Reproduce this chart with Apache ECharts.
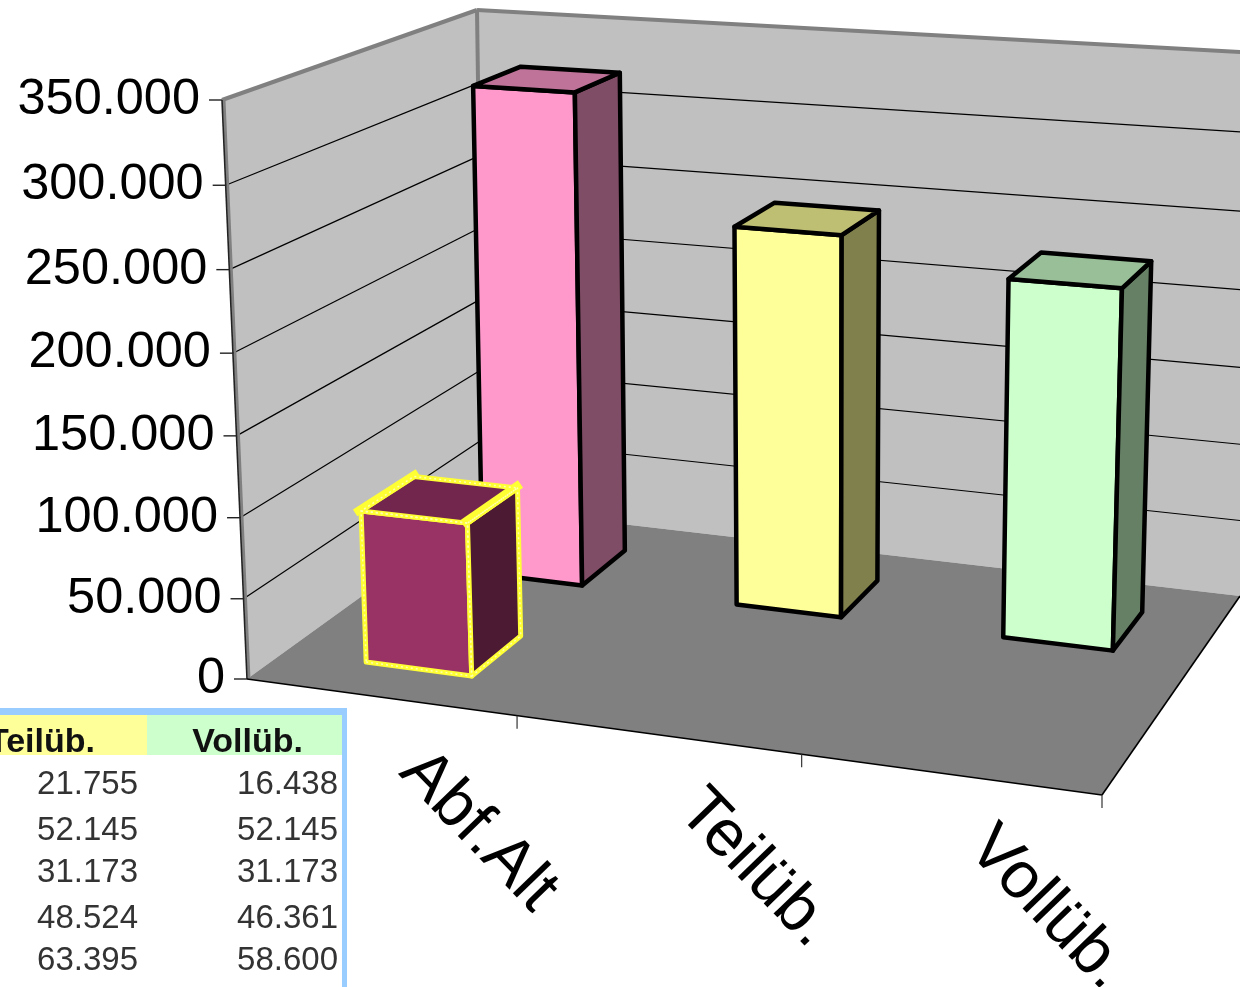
<!DOCTYPE html>
<html><head><meta charset="utf-8"><style>html,body{margin:0;padding:0;background:#fff;overflow:hidden}#c{width:1240px;height:987px}</style>
<script src="https://cdn.jsdelivr.net/npm/echarts@6/dist/echarts.min.js"></script></head>
<body><div id="c"></div><script>
// ---- data ----
var categories = ['Abf.Alt', 'Teilüb.', 'Vollüb.'];
var tickValues = [0, 50000, 100000, 150000, 200000, 250000, 300000, 350000];
var tickLabels = ['0', '50.000', '100.000', '150.000', '200.000', '250.000', '300.000', '350.000'];
var frontRow = [95000, null, null];
var backRow = [323000, 245000, 226000];
var tableHeaders = ['Teilüb.', 'Vollüb.'];
var tableTeil = ['21.755', '52.145', '31.173', '48.524', '63.395'];
var tableVoll = ['16.438', '52.145', '31.173', '46.361', '58.600'];

// ---- styles / camera ----
var frontColors = [['#993366', '#73264D', '#4D1A33']];
var backColors = [['#FF99CC', '#BF7399', '#804D66'], ['#FFFF99', '#BFBF73', '#80804D'], ['#CCFFCC', '#99BF99', '#668066']];
var FLOOR = [[247, 679], [1102, 795], [1240, 596], [484, 508]];
var CEIL = [[222, 100], [1121, 161], [1258, 53], [477, 10]];
var PERSP = 1.036, BAR_RATIO = 0.3975, DEPTH = 0.106, ROW_V = [0.25, 0.748], ROW_U = [0.003, 0.00275];
var FONT = '"Liberation Sans", Arial, sans-serif';

function sq(q) {
  var x0=q[0][0],y0=q[0][1],x1=q[1][0],y1=q[1][1],x2=q[2][0],y2=q[2][1],x3=q[3][0],y3=q[3][1];
  var dx1=x1-x2,dx2=x3-x2,sx=x0-x1+x2-x3,dy1=y1-y2,dy2=y3-y2,sy=y0-y1+y2-y3;
  var d=dx1*dy2-dx2*dy1,g=(sx*dy2-dx2*sy)/d,h=(dx1*sy-sx*dy1)/d;
  return [x1-x0+g*x1,x3-x0+h*x3,x0,y1-y0+g*y1,y3-y0+h*y3,y0,g,h,1];
}
function ap(m,u,v){var w=m[6]*u+m[7]*v+m[8];return [(m[0]*u+m[1]*v+m[2])/w,(m[3]*u+m[4]*v+m[5])/w];}
var mF = sq(FLOOR), mC = sq(CEIL);
function P(u,v,t){ // u along categories, v depth, t share of the value axis
  var b=ap(mF,u,v),c=ap(mC,u,v),f=t/(t+(1-t)*PERSP);
  return [b[0]+(c[0]-b[0])*f,b[1]+(c[1]-b[1])*f];
}
// library scale -> normalised share
function scale(api){
  var s=api.size([1,0])[0],x0=api.coord([0,0]),yT=api.coord([0,350000])[1];
  return {u:function(i){return (api.coord([i,0])[0]-x0[0]+s/2)/(3*s);},
          t:function(val){return (x0[1]-api.coord([0,val])[1])/(x0[1]-yT);}};
}
function poly(pts,fill,stroke,lw,extra){
  var st={fill:fill,stroke:stroke,lineWidth:lw,lineJoin:'round'};
  if(extra){for(var k in extra)st[k]=extra[k];}
  return {type:'polygon',shape:{points:pts},style:st,silent:true};
}
function line(a,b,col,lw,extra){
  var st={stroke:col,lineWidth:lw,fill:null,lineCap:'butt'};
  if(extra){for(var k in extra)st[k]=extra[k];}
  return {type:'polyline',shape:{points:[a,b]},style:st,silent:true};
}

function frame(params,api){
  var ch=[],G='#808080';
  ch.push(poly([P(0,0,0),P(0,1,0),P(0,1,1),P(0,0,1)],'#C0C0C0',null,0));
  ch.push(poly([P(0,1,0),P(1,1,0),P(1,1,1),P(0,1,1)],'#C0C0C0',null,0));
  ch.push(poly([P(0,0,0),P(1,0,0),P(1,1,0),P(0,1,0)],G,null,0));
  var sc=scale(api);
  tickValues.forEach(function(v){
    var t=sc.t(v),a=P(0,0,t),b=P(0,1,t),c=P(1,1,t);
    if(v>0&&v<350000){ch.push(line(a,b,'#000',1.2));ch.push(line(b,c,'#000',1.2));}
    ch.push(line([a[0]-13,a[1]],a,'#222',1.4));
  });
  ch.push(line(P(0,0,1),P(0,1,1),G,4));
  ch.push(line(P(0,1,1),P(1,1,1),G,4));
  ch.push(line(P(0,1,0),P(0,1,1),G,4));
  ch.push(line([P(0,0,0)[0]+2,P(0,0,0)[1]],[P(0,0,1)[0]+2,P(0,0,1)[1]],G,3));
  ch.push(line(P(0,0,0),P(0,0,1),'#222',1.6));
  ch.push(line(P(0,0,0),P(1,0,0),'#000',1.6));
  ch.push(line(P(1,0,0),P(1,1,0),'#000',1.6));
  categories.forEach(function(c,i){
    var p=P((i+1)/categories.length,0,0);
    ch.push(line(p,[p[0],p[1]+13],'#333',1.2));
  });
  return {type:'group',children:ch};
}

function barItem(colors,row,sel){
  return function(params,api){
    var i=api.value(0),val=api.value(1);
    if(isNaN(val))return null;
    var sc=scale(api),uc=sc.u(i)+ROW_U[row],hw=BAR_RATIO/3/2,v=ROW_V[row],t=sc.t(val);
    var u0=uc-hw,u1=uc+hw,v0=v-DEPTH,v1=v+DEPTH;
    var col=colors[i%colors.length];
    var A=P(u0,v0,0),B=P(u1,v0,0),C=P(u1,v1,0),
        D=P(u0,v0,t),E=P(u1,v0,t),F=P(u1,v1,t),H=P(u0,v1,t);
    var faces=[[A,B,E,D],[B,C,F,E],[D,E,F,H]],fills=[col[0],col[2],col[1]];
    var ch=[],stroke=sel?'#FFFF33':'#000',lw=sel?5:4.5;
    faces.forEach(function(f,k){ch.push(poly(f,fills[k],stroke,lw));});
    if(sel){
      ch.push(line([D[0]-6,D[1]+2],[H[0]+4,H[1]-4],'#FFFF33',8));
      ch.push(line([E[0]-5,E[1]+1],[F[0]+3,F[1]-4],'#FFFF33',9));
      faces.forEach(function(f){ch.push(poly(f,'rgba(0,0,0,0)','#FFFFB0',1.5,{lineDash:[2,3]}));});
    }
    return {type:'group',children:ch};
  };
}

function yLabel(params,api){
  var sc=scale(api),p=P(0,0,sc.t(api.value(1)));
  return {type:'text',x:p[0]-22,y:p[1],silent:true,
    style:{text:tickLabels[params.dataIndex],fill:'#000',font:'50.5px '+FONT,textAlign:'right',textVerticalAlign:'middle'}};
}
function xLabel(params,api){
  var sc=scale(api),i=api.value(0),p=P(sc.u(i),0,0);
  return {type:'text',x:p[0]+98,y:p[1]+134,rotation:-46*Math.PI/180,silent:true,
    style:{text:categories[i],fill:'#000',font:'66px '+FONT,textAlign:'center',textVerticalAlign:'middle'}};
}

// table in the lower left corner
var rowsY=[785,831,873,919,961];
var tableG=[
  {type:'rect',shape:{x:0,y:708,width:347,height:279},style:{fill:'#99CCFF'},silent:true},
  {type:'rect',shape:{x:0,y:715,width:342,height:272},style:{fill:'#fff'},silent:true},
  {type:'rect',shape:{x:0,y:715,width:147,height:40},style:{fill:'#FFFF99'},silent:true},
  {type:'rect',shape:{x:147,y:715,width:195,height:40},style:{fill:'#CCFFCC'},silent:true},
  {type:'text',x:95,y:743,silent:true,style:{text:tableHeaders[0],fill:'#111',font:'bold 34px '+FONT,textAlign:'right',textVerticalAlign:'middle'}},
  {type:'text',x:303,y:743,silent:true,style:{text:tableHeaders[1],fill:'#111',font:'bold 34px '+FONT,textAlign:'right',textVerticalAlign:'middle'}}
];
tableTeil.forEach(function(s,i){tableG.push({type:'text',x:138,y:rowsY[i],silent:true,style:{text:s,fill:'#333',font:'33px '+FONT,textAlign:'right',textVerticalAlign:'middle'}});});
tableVoll.forEach(function(s,i){tableG.push({type:'text',x:338,y:rowsY[i],silent:true,style:{text:s,fill:'#333',font:'33px '+FONT,textAlign:'right',textVerticalAlign:'middle'}});});

var chart=echarts.init(document.getElementById('c'),null,{width:1240,height:987});
chart.setOption({
  animation:false,backgroundColor:'#fff',
  grid:{left:100,top:100,width:900,height:700},
  xAxis:{type:'category',data:categories,show:false},
  yAxis:{type:'value',min:0,max:350000,interval:50000,show:false},
  tooltip:{show:false},
  graphic:{elements:tableG.map(function(e){e.z=20;return e;})},
  series:[
    {type:'custom',name:'frame',z:1,clip:false,renderItem:frame,data:[[0,0]]},
    {type:'custom',name:'Reihe 2',z:2,clip:false,renderItem:barItem(backColors,1,false),data:backRow.map(function(v,i){return [i,v];})},
    {type:'custom',name:'Reihe 1',z:3,clip:false,renderItem:barItem(frontColors,0,true),data:frontRow.map(function(v,i){return [i,v==null?NaN:v];})},
    {type:'custom',name:'yLabels',z:4,clip:false,renderItem:yLabel,data:tickValues.map(function(v){return [0,v];})},
    {type:'custom',name:'xLabels',z:4,clip:false,renderItem:xLabel,data:categories.map(function(c,i){return [i,0];})}
  ]
});
</script></body></html>
